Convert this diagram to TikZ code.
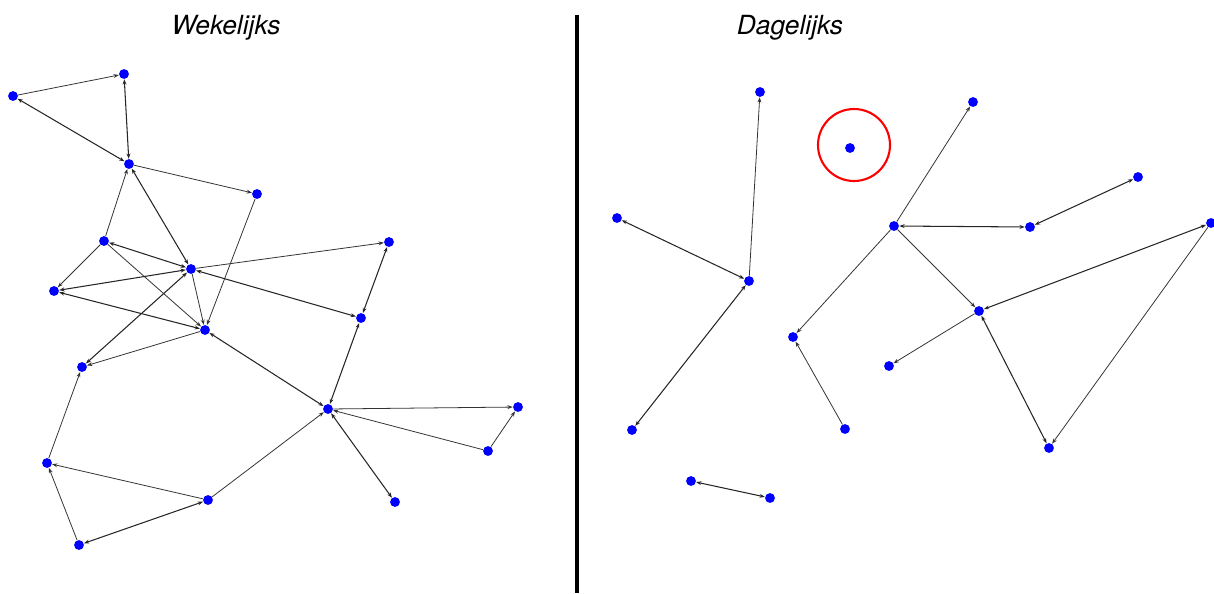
\documentclass[tikz,border=0pt]{standalone}
\usepackage{fontspec}
\setmainfont{TeX Gyre Heros}
\usepackage{tikz}
\usetikzlibrary{arrows.meta}

\begin{document}
\begin{tikzpicture}[x=0.02cm,y=-0.02cm,
    dot/.style={circle,fill=blue,inner sep=0pt,minimum size=5.6pt},
    edge/.style={-{Stealth[length=3pt,width=2.2pt]},line width=0.45pt,black!80},
    biedge/.style={{Stealth[length=3pt,width=2.2pt]}-{Stealth[length=3pt,width=2.2pt]},line width=0.6pt,black!85},
    title/.style={font=\fontsize{15}{18}\selectfont\itshape}]
    \useasboundingbox (0,0) rectangle (1214,593);
    % Titles and divider
    \node[title] (tw) at (226,28) {Wekelijks};
    \node[title] (td) at (790,28) {Dagelijks};
    \draw[line width=2.2pt] (577,15) -- (577,593);
    % Weekly nodes
    \node[dot] (w1) at (13,96) {};
    \node[dot] (w2) at (124,74) {};
    \node[dot] (w3) at (129,164) {};
    \node[dot] (w4) at (257,194) {};
    \node[dot] (w5) at (104,241) {};
    \node[dot] (w6) at (191,269) {};
    \node[dot] (w7) at (389,242) {};
    \node[dot] (w8) at (54,291) {};
    \node[dot] (w9) at (205,330) {};
    \node[dot] (w10) at (361,318) {};
    \node[dot] (w11) at (82,367) {};
    \node[dot] (w12) at (328,409) {};
    \node[dot] (w13) at (518,407) {};
    \node[dot] (w14) at (488,451) {};
    \node[dot] (w15) at (47,463) {};
    \node[dot] (w16) at (208,500) {};
    \node[dot] (w17) at (395,502) {};
    \node[dot] (w18) at (79,545) {};
    % Weekly edges
    \draw[edge] (w1) -- (w2);
    \draw[biedge] (w3) -- (w1);
    \draw[biedge] (w3) -- (w2);
    \draw[edge] (w3) -- (w4);
    \draw[edge] (w5) -- (w3);
    \draw[biedge] (w6) -- (w3);
    \draw[edge] (w4) -- (w9);
    \draw[biedge] (w6) -- (w5);
    \draw[edge] (w5) -- (w8);
    \draw[edge] (w5) -- (w9);
    \draw[edge] (w6) -- (w7);
    \draw[biedge] (w6) -- (w8);
    \draw[edge] (w6) -- (w9);
    \draw[biedge] (w6) -- (w10);
    \draw[biedge] (w6) -- (w11);
    \draw[biedge] (w8) -- (w9);
    \draw[edge] (w9) -- (w11);
    \draw[biedge] (w10) -- (w7);
    \draw[biedge] (w12) -- (w9);
    \draw[biedge] (w12) -- (w10);
    \draw[edge] (w12) -- (w13);
    \draw[edge] (w14) -- (w12);
    \draw[edge] (w14) -- (w13);
    \draw[biedge] (w12) -- (w17);
    \draw[edge] (w16) -- (w12);
    \draw[edge] (w15) -- (w11);
    \draw[edge] (w16) -- (w15);
    \draw[edge] (w18) -- (w15);
    \draw[biedge] (w18) -- (w16);
    % Daily nodes
    \node[dot] (d1) at (760,92) {};
    \node[dot] (d2) at (850,148) {};
    \node[dot] (d3) at (617,218) {};
    \node[dot] (d4) at (749,281) {};
    \node[dot] (d5) at (632,430) {};
    \node[dot] (d6) at (973,102) {};
    \node[dot] (d7) at (894,226) {};
    \node[dot] (d8) at (1030,227) {};
    \node[dot] (d9) at (1138,177) {};
    \node[dot] (d10) at (1211,223) {};
    \node[dot] (d11) at (979,311) {};
    \node[dot] (d12) at (793,337) {};
    \node[dot] (d13) at (889,366) {};
    \node[dot] (d14) at (845,429) {};
    \node[dot] (d15) at (1049,448) {};
    \node[dot] (d16) at (691,481) {};
    \node[dot] (d17) at (770,498) {};
    % Isolated node mark
    \draw[red,line width=1.2pt] (854,145) circle (36);
    % Daily edges
    \draw[edge] (d4) -- (d1);
    \draw[biedge] (d4) -- (d3);
    \draw[biedge] (d4) -- (d5);
    \draw[edge] (d7) -- (d6);
    \draw[biedge] (d8) -- (d7);
    \draw[biedge] (d8) -- (d9);
    \draw[edge] (d7) -- (d12);
    \draw[edge] (d7) -- (d11);
    \draw[biedge] (d10) -- (d11);
    \draw[edge] (d10) -- (d15);
    \draw[biedge] (d11) -- (d15);
    \draw[edge] (d11) -- (d13);
    \draw[edge] (d14) -- (d12);
    \draw[biedge] (d16) -- (d17);
\end{tikzpicture}
\end{document}
